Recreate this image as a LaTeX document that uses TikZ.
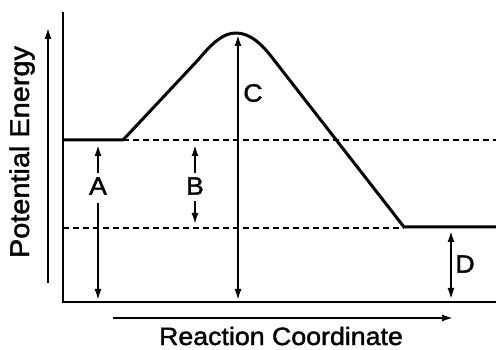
\documentclass[tikz,border=0pt]{standalone}
\usepackage{fontspec}
\setmainfont{Liberation Sans}
\newfontfamily\heavy{Liberation Sans}[FakeBold=1.6, FakeStretch=1.07]
\usetikzlibrary{arrows.meta}
\begin{document}
\begin{tikzpicture}[x=1pt,y=-1pt,
  axis/.style={line width=2.2pt},
  curve/.style={line width=3pt, line join=round},
  guide/.style={line width=1.4pt, dash pattern=on 6pt off 4pt},
  meas/.style={line width=1.8pt, -{Latex[length=11pt,width=7pt]}},
  twoway/.style={line width=1.8pt, {Latex[length=11pt,width=7pt]}-{Latex[length=11pt,width=7pt]}},
  lbl/.style={font=\heavy\fontsize{25}{25}\selectfont, inner sep=0pt},
  ttl/.style={font=\heavy\fontsize{25}{25}\selectfont, inner sep=0pt}]
\useasboundingbox (0,0) rectangle (496,350);
% axes
\coordinate (ytop) at (63,12);
\coordinate (orig) at (63,302);
\coordinate (xend) at (496,302);
\draw[axis] (ytop) -- (orig) -- (xend);
% axis arrows and titles
\coordinate (e0) at (48,283);
\coordinate (e1) at (48,28);
\draw[meas] (e0) -- (e1);
\coordinate (r0) at (113,318);
\coordinate (r1) at (453,318);
\draw[meas] (r0) -- (r1);
\node[ttl, font=\heavy\fontsize{27}{27}\selectfont, rotate=90, anchor=base] (pe) at (29,152) {Potential Energy};
\node[ttl, anchor=base] (rc) at (281,345) {Reaction Coordinate};
% dashed guides
\coordinate (g1a) at (123,140);
\coordinate (g1b) at (496,140);
\coordinate (g2a) at (63,228);
\coordinate (g2b) at (404,228);
\draw[guide] (g1a) -- (g1b);
\draw[guide] (g2a) -- (g2b);
% energy curve
\draw[curve] (63,140) -- (g1a) -- (198,60) .. controls (214,41) and (224,33) .. (236,33)
  .. controls (250,33) and (262,44) .. (274,60) -- (404,227) -- (496,227);
% labels
\node[lbl] (A) at (98,186) {A};
\node[lbl] (B) at (195,186) {B};
\node[lbl] (C) at (253,93) {C};
\node[lbl] (D) at (465,264) {D};
% A
\coordinate (aTop) at (98,145);
\coordinate (aBot) at (98,300);
\draw[meas, shorten <=4pt] (A.north) -- (aTop);
\draw[meas, shorten <=8pt] (A.south) -- (aBot);
% B
\coordinate (bTop) at (195,145);
\coordinate (bBot) at (195,224);
\draw[meas, shorten <=4pt] (B.north) -- (bTop);
\draw[meas, shorten <=6pt] (B.south) -- (bBot);
% C
\coordinate (cTop) at (238,35);
\coordinate (cBot) at (238,300);
\draw[twoway] (cBot) -- (cTop);
% D
\coordinate (dTop) at (451,231);
\coordinate (dBot) at (451,299);
\draw[twoway] (dBot) -- (dTop);
\end{tikzpicture}
\end{document}
